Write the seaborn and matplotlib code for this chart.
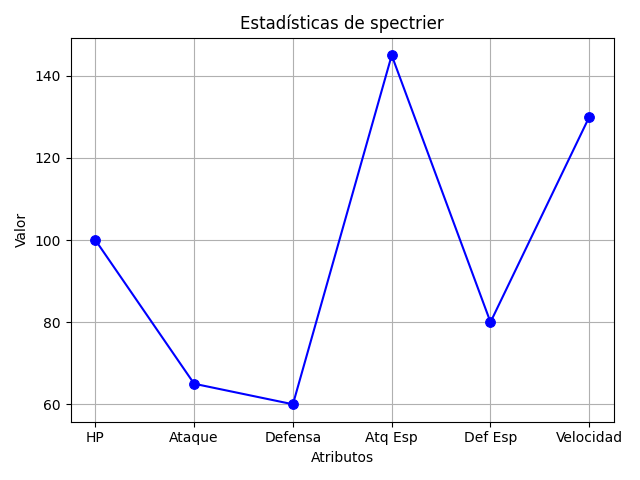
import seaborn as sns
import pandas as pd
import matplotlib.pyplot as plt

atributos = ["HP", "Ataque", "Defensa", "Atq Esp", "Def Esp", "Velocidad"]
valores = [100, 65, 60, 145, 80, 130]

df = pd.DataFrame({"Atributos": atributos, "Valor": valores})

fig, ax = plt.subplots(figsize=(6.4, 4.8), dpi=100)
sns.lineplot(data=df, x="Atributos", y="Valor", color="blue", marker="o",
             markersize=7, markeredgecolor="blue", sort=False, ax=ax)
ax.set_title("Estadísticas de spectrier")
ax.grid(True)
plt.tight_layout()
plt.savefig("out.png")
